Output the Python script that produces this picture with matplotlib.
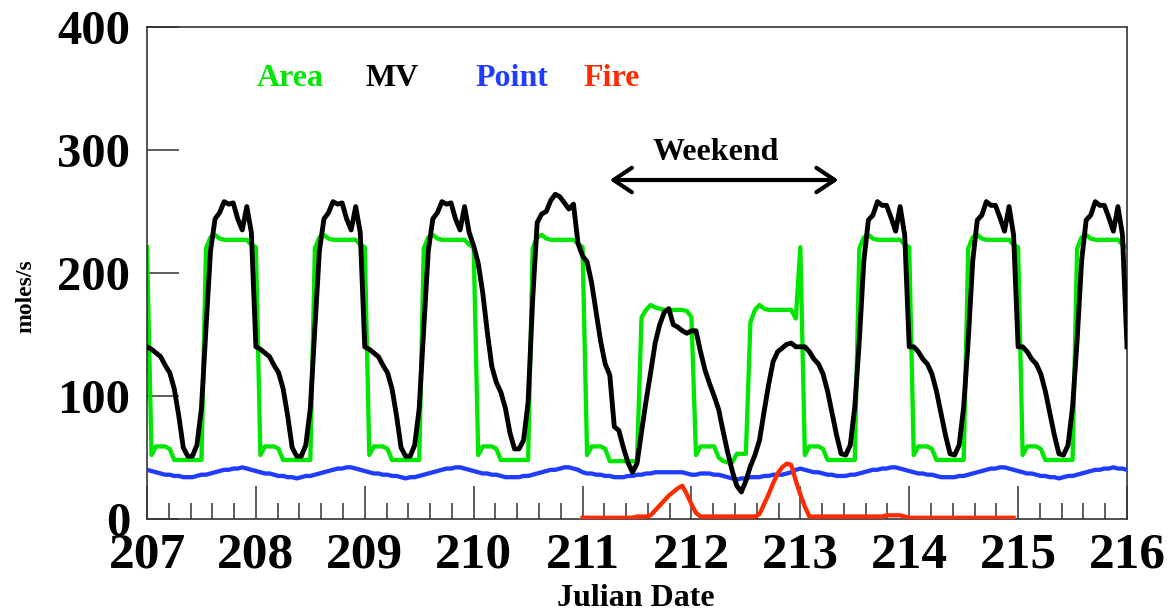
import matplotlib
matplotlib.use('Agg')
import matplotlib.pyplot as plt
from matplotlib.ticker import MultipleLocator
import numpy as np

# ---------------- data (hourly values) ----------------
days = [207, 208, 209, 210, 211, 212, 213, 214, 215]
x_ticks = [207, 208, 209, 210, 211, 212, 213, 214, 215, 216]
y_ticks = [0, 100, 200, 300, 400]

area_207 = [221, 52, 59, 59, 59, 57, 48, 48, 48, 48, 48, 48, 48, 220, 229, 231, 228, 227, 227, 227, 227, 227, 227, 223]
area_208 = [221, 52, 59, 59, 59, 57, 48, 48, 48, 48, 48, 48, 48, 220, 229, 231, 228, 227, 227, 227, 227, 227, 227, 223]
area_209 = [221, 52, 59, 59, 59, 57, 48, 48, 48, 48, 48, 48, 48, 220, 229, 231, 228, 227, 227, 227, 227, 227, 227, 223]
area_210 = [221, 52, 59, 59, 59, 57, 48, 48, 48, 48, 48, 48, 48, 220, 229, 231, 228, 227, 227, 227, 227, 227, 227, 224]
area_211 = [221, 52, 59, 59, 59, 57, 47, 47, 47, 47, 47, 47, 47, 164, 170, 174, 172, 171, 170, 170, 170, 170, 170, 169]
area_212 = [164, 52, 59, 59, 59, 59, 50, 47, 46, 46, 53, 53, 53, 160, 170, 174, 171, 170, 170, 170, 170, 170, 170, 163]
area_213 = [221, 52, 59, 59, 59, 57, 48, 48, 48, 48, 48, 48, 48, 220, 229, 231, 228, 227, 227, 227, 227, 227, 227, 223]
area_214 = [221, 52, 59, 59, 59, 57, 48, 48, 48, 48, 48, 48, 48, 220, 229, 231, 228, 227, 227, 227, 227, 227, 227, 223]
area_215 = [221, 52, 59, 59, 59, 57, 48, 48, 48, 48, 48, 48, 48, 220, 229, 231, 228, 227, 227, 227, 227, 227, 227, 223]
area_end = [221]

mv_207 = [140, 138, 135, 132, 125, 119, 106, 84, 58, 51, 51, 60, 90, 155, 218, 244, 249, 258, 256, 257, 244, 235, 254, 233]
mv_208 = [140, 138, 135, 132, 125, 119, 106, 84, 58, 51, 51, 60, 90, 155, 218, 244, 249, 258, 256, 257, 244, 235, 254, 233]
mv_209 = [140, 138, 135, 132, 125, 119, 106, 84, 58, 51, 51, 60, 90, 155, 218, 244, 249, 258, 256, 257, 244, 235, 254, 233]
mv_210 = [222, 208, 184, 152, 124, 111, 103, 90, 70, 57, 57, 64, 95, 178, 241, 248, 250, 259, 264, 262, 257, 252, 256, 224]
mv_211 = [214, 209, 192, 168, 144, 126, 117, 75, 72, 58, 46, 38, 45, 71, 96, 119, 143, 158, 168, 171, 158, 156, 153, 151]
mv_212 = [153, 153, 136, 121, 110, 100, 89, 71, 54, 39, 27, 22, 31, 43, 52, 64, 87, 109, 128, 136, 139, 142, 143, 140]
mv_213 = [140, 140, 136, 130, 126, 118, 104, 86, 68, 53, 52, 60, 91, 145, 210, 243, 247, 258, 255, 255, 245, 234, 254, 231]
mv_214 = [140, 140, 136, 130, 126, 118, 104, 86, 68, 53, 52, 60, 91, 145, 210, 243, 247, 258, 255, 255, 245, 234, 254, 231]
mv_215 = [140, 140, 136, 130, 126, 118, 104, 86, 68, 53, 52, 60, 91, 145, 210, 243, 247, 258, 255, 255, 245, 234, 254, 231]
mv_end = [140]

pt_207 = [40, 39, 38, 37, 36, 36, 35, 35, 34, 34, 34, 35, 36, 36, 37, 38, 39, 40, 40, 41, 41, 42, 41, 40]
pt_208 = [39, 38, 37, 37, 36, 35, 35, 34, 34, 33, 34, 35, 35, 36, 37, 38, 39, 40, 41, 41, 42, 42, 41, 40]
pt_209 = [39, 38, 37, 37, 36, 36, 35, 35, 34, 33, 34, 34, 35, 36, 37, 38, 39, 40, 41, 41, 42, 42, 41, 40]
pt_210 = [39, 38, 37, 37, 36, 36, 35, 34, 34, 34, 34, 35, 35, 36, 37, 38, 39, 40, 40, 41, 42, 42, 41, 40]
pt_211 = [38, 37, 37, 36, 36, 35, 35, 34, 34, 34, 35, 35, 36, 36, 37, 37, 38, 38, 38, 38, 38, 38, 38, 37]
pt_212 = [36, 36, 37, 37, 37, 36, 36, 35, 34, 33, 32, 33, 33, 34, 34, 34, 35, 35, 36, 36, 36, 37, 38, 40]
pt_213 = [41, 40, 39, 38, 38, 37, 36, 36, 35, 35, 35, 36, 36, 37, 38, 39, 40, 40, 41, 41, 42, 42, 41, 40]
pt_214 = [39, 38, 37, 37, 36, 36, 35, 34, 34, 34, 34, 35, 35, 36, 37, 38, 39, 40, 41, 41, 42, 42, 41, 40]
pt_215 = [39, 38, 37, 37, 36, 35, 35, 34, 34, 33, 34, 35, 35, 36, 37, 38, 39, 40, 40, 41, 41, 42, 41, 41]
pt_end = [40]

fire_211 = [1, 1, 1, 1, 1, 1, 1, 1, 1, 1, 1, 1, 2, 2, 2, 3, 7, 11, 15, 19, 22, 25, 27, 20]
fire_212 = [12, 5, 2, 2, 2, 2, 2, 2, 2, 2, 2, 2, 2, 2, 2, 4, 12, 20, 29, 37, 42, 45, 44, 31]
fire_213 = [20, 10, 2, 2, 2, 2, 2, 2, 2, 2, 2, 2, 2, 2, 2, 2, 2, 2, 2, 3, 3, 3, 3, 2]
fire_214 = [1, 1, 1, 1, 1, 1, 1, 1, 1, 1, 1, 1, 1, 1, 1, 1, 1, 1, 1, 1, 1, 1, 1, 1]
fire_start = 211

series_names = ["Area", "MV", "Point", "Fire"]
weekend_label = "Weekend"
weekend_span = (211.25, 213.35)

# ---------------- assemble ----------------
area = area_207 + area_208 + area_209 + area_210 + area_211 + area_212 + area_213 + area_214 + area_215 + area_end
mv = mv_207 + mv_208 + mv_209 + mv_210 + mv_211 + mv_212 + mv_213 + mv_214 + mv_215 + mv_end
point = pt_207 + pt_208 + pt_209 + pt_210 + pt_211 + pt_212 + pt_213 + pt_214 + pt_215 + pt_end
fire = fire_211 + fire_212 + fire_213 + fire_214

t = days[0] + np.arange(len(area)) / 24.0
t_fire = fire_start + np.arange(len(fire)) / 24.0

# ---------------- style ----------------
plt.rcParams['font.family'] = ['Liberation Serif', 'DejaVu Serif']
plt.rcParams['font.weight'] = 'bold'

c_area = '#00e600'
c_mv = '#000000'
c_point = '#1f3cff'
c_fire = '#ff2a00'

fig = plt.figure(figsize=(11.71, 6.13), dpi=100)
ax = fig.add_axes([147 / 1171, 1 - 519 / 613, 980 / 1171, 492 / 613])

ax.plot(t, area, color=c_area, lw=3.1, zorder=2)
ax.plot(t, point, color=c_point, lw=3.1, zorder=3)
ax.plot(t_fire, fire, color=c_fire, lw=3.1, zorder=4)
ax.plot(t, mv, color=c_mv, lw=3.5, zorder=5)

ax.set_xlim(207, 216)
ax.set_ylim(0, 400)
ax.set_xticks(x_ticks)
ax.set_xticklabels([str(v) for v in x_ticks])
ax.xaxis.set_minor_locator(MultipleLocator(0.2))
ax.set_yticks(y_ticks)
ax.set_yticklabels([str(v) for v in y_ticks])

for s in ax.spines.values():
    s.set_linewidth(1.2)
    s.set_color('#333333')

ax.tick_params(axis='x', which='major', direction='in', length=24, width=1.1,
               color='#333333', labelsize=37, pad=35)
ax.tick_params(axis='x', which='minor', direction='in', length=11.5, width=1.1,
               color='#333333')
ax.tick_params(axis='y', which='major', direction='in', length=23, width=1.1,
               color='#333333', labelsize=35, pad=12)
for lbl in ax.get_xticklabels():
    lbl.set_verticalalignment('baseline')

ax.set_ylabel('moles/s', fontsize=17, fontweight='bold')
ax.yaxis.set_label_coords(-0.113, 0.453)
ax.set_xlabel('Julian Date', fontsize=23, fontweight='bold')
ax.xaxis.set_label_coords(0.499, -0.132)

# legend-like coloured labels
label_x = [208.32, 209.25, 210.35, 211.27]
label_colors = [c_area, c_mv, c_point, c_fire]
for name, xx, cc in zip(series_names, label_x, label_colors):
    ax.text(xx, 358, name, color=cc, fontsize=23, fontweight='bold',
            ha='center', va='center')

# weekend annotation
ax.text(sum(weekend_span) / 2 - 0.08, 298, weekend_label, fontsize=23,
        fontweight='bold', ha='center', va='center')
ax.annotate('', xy=(weekend_span[0], 275.6), xytext=(weekend_span[1], 275.6),
            arrowprops=dict(arrowstyle='<->,head_length=0.6,head_width=0.4',
                            lw=3, color='black', mutation_scale=22,
                            shrinkA=0, shrinkB=0))

fig.savefig('out.png', dpi=100)
